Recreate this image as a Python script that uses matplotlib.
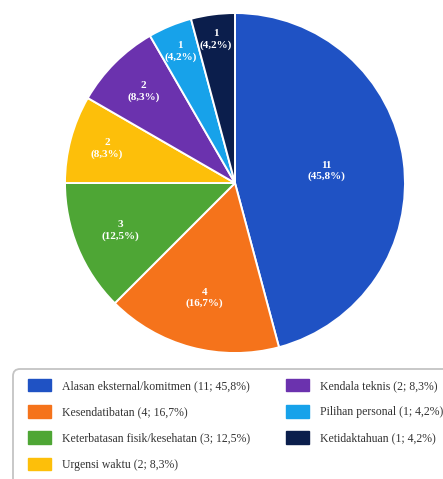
import matplotlib.pyplot as plt
import numpy as np
from matplotlib.patches import Patch, FancyBboxPatch
from matplotlib.transforms import IdentityTransform

# reasons and counts
labels = ["Alasan eksternal/komitmen", "Kesendatibatan", "Keterbatasan fisik/kesehatan",
          "Urgensi waktu", "Kendala teknis", "Pilihan personal", "Ketidaktahuan"]
counts = [11, 4, 3, 2, 2, 1, 1]
pct_text = ["45,8%", "16,7%", "12,5%", "8,3%", "8,3%", "4,2%", "4,2%"]
colors = ["#1f52c4", "#f5731b", "#4ea635", "#fdbf0a", "#6b32ae", "#17a2ea", "#0b1e4c"]
label_r = [0.54, 0.70, 0.73, 0.78, 0.76, 0.84, 0.85]

plt.rcParams['font.family'] = ['Liberation Serif', 'DejaVu Serif']

W, H = 443, 479
fig = plt.figure(figsize=(W / 100, H / 100), dpi=100)
ax = fig.add_axes([0.1467, 0.263, 0.7675, 0.7098])

wedges, _ = ax.pie(counts, colors=colors, startangle=90, counterclock=False,
                   radius=1, wedgeprops=dict(edgecolor="white", linewidth=1.4))

for w, n, p, r in zip(wedges, counts, pct_text, label_r):
    mid = np.deg2rad((w.theta1 + w.theta2) / 2)
    ax.text(r * np.cos(mid), r * np.sin(mid), "%d\n(%s)" % (n, p),
            ha="center", va="center", color="white", fontsize=8,
            fontweight="bold", linespacing=1.3)

ax.set_xlim(-1, 1)
ax.set_ylim(-1, 1)
ax.set_aspect("equal")
ax.axis("off")

# legend frame (runs off the bottom/right edge like the original)
frame = FancyBboxPatch((13, -20), 460, H - 369 + 20,
                       boxstyle="round,pad=0,rounding_size=7",
                       transform=IdentityTransform(), facecolor="white",
                       edgecolor="#c4c4c4", linewidth=1.3, zorder=0)
fig.patches.append(frame)

handles = [Patch(facecolor=c, edgecolor=c) for c in colors]
leg_labels = ["%s (%d; %s)" % (l, n, p) for l, n, p in zip(labels, counts, pct_text)]
opts = dict(loc="upper left", fontsize=8.5, frameon=False,
            handlelength=1.95, handleheight=1.25, handletextpad=0.95,
            labelspacing=1.1, borderpad=0, borderaxespad=0, labelcolor="#333333")
leg1 = fig.legend(handles[:4], leg_labels[:4],
                  bbox_to_anchor=(28 / W, (H - 379) / H), **opts)
leg2 = fig.legend(handles[4:], leg_labels[4:],
                  bbox_to_anchor=(286 / W, (H - 379) / H), **opts)

fig.savefig("out.png", dpi=100)
